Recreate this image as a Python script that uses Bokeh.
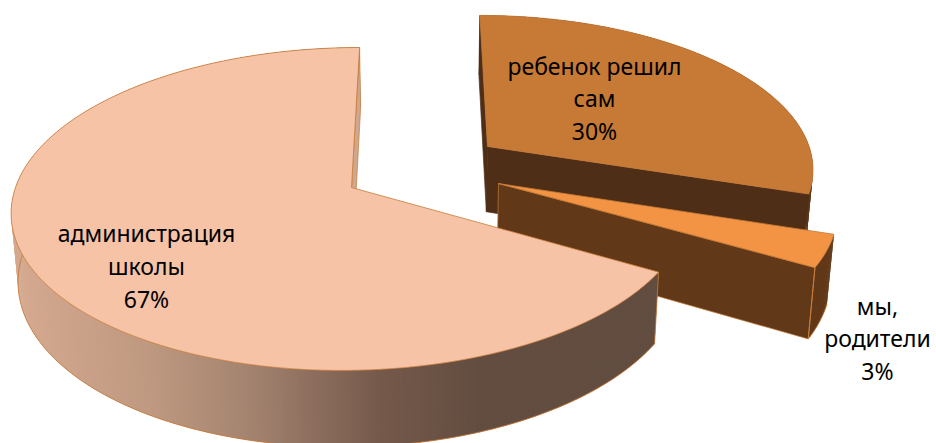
import math
from bokeh.plotting import figure
from bokeh.models import ColumnDataSource, Range1d
from bokeh.core.properties import value
from bokeh.embed import file_html
from bokeh.resources import INLINE

# ---- data (labels show the rounded shares)
categories = ["администрация школы", "ребенок решил сам", "мы, родители"]
shares = [66.7, 30.0, 3.3]
label_lines = [["администрация", "школы", "67%"],
               ["ребенок решил", "сам", "30%"],
               ["мы,", "родители", "3%"]]

# ---- styles
top_colors = ["#F6C3A6", "#C67A36", "#F29443"]
wall_colors = [None, "#4E2E16", "#613818"]
arc_colors = [None, "#5B3819", "#613818"]
edge = "#C87B38"
FONT = "Noto Sans"
FS = "23px"

# ---- projection (pixels of the 936x443 page)
VX, CY = 420.0, 187.0
RADII = [336.0, 333.0, 336.0]
RY, K = 158.6, 0.133
SHRINK = 0.983
CENTRES = [(351.0, 0.0), (489.4, -0.268), (498.3, -0.025)]  # exploded centres
LABEL_POS = [(146, [232.5, 265.5, 298.5]), (594, [65, 97.5, 130]), (877, [305.5, 337.5, 370.5])]


def proj(wx, s):
    f = 1.0 / (1.0 - K * s)
    return VX + (wx - VX) * f, CY + RY * s * f


def lower(px, py):
    return VX + (px - VX) * SHRINK, py + 58 + 0.05 * py


def ring(centre, radius, a0, a1, n):
    out = []
    for i in range(n + 1):
        a = math.radians(a0 + (a1 - a0) * i / n)
        out.append(proj(centre[0] + radius * math.cos(a), centre[1] - math.sin(a)))
    return out


STOPS = [(20, (212, 169, 143)), (150, (190, 152, 128)), (250, (163, 131, 111)),
         (300, (145, 114, 97)), (380, (117, 89, 75)), (480, (98, 77, 64)), (660, (98, 77, 64))]


def big_colour(x):
    for (x0, c0), (x1, c1) in zip(STOPS, STOPS[1:]):
        if x <= x1:
            t = max(0.0, (x - x0) / (x1 - x0))
            return "#%02x%02x%02x" % tuple(round(u + (v - u) * t) for u, v in zip(c0, c1))
    return "#624d40"


p = figure(width=936, height=443, output_backend="svg", toolbar_location=None,
           x_axis_type=None, y_axis_type=None, min_border=0, outline_line_color=None,
           x_range=Range1d(0, 936), y_range=Range1d(443, 0))
p.grid.visible = False
p.background_fill_color = "white"
p.border_fill_color = "white"

# angles follow from the shares; the big slice starts at twelve o'clock
total = sum(shares)
spans = []
start = 90.0
spans.append((start, start + 360.0 * shares[0] / total))
spans.append((start - 360.0 * shares[1] / total, start))
spans.append((spans[1][0] - 360.0 * shares[2] / total, spans[1][0]))

for idx in (1, 2, 0):
    a0, a1 = spans[idx]
    centre = CENTRES[idx]
    apex = proj(centre[0], centre[1])
    n = max(12, int(abs(a1 - a0)) * 2)
    top = ring(centre, RADII[idx], a0, a1, n)
    low = [lower(*q) for q in top]

    # outer wall in thin slabs, each overlapping the next so that no seams show
    xs, ys, cols = [], [], []
    for i in range(n):
        j = min(i + 2, n)
        xs.append([top[i][0], top[j][0], low[j][0], low[i][0]])
        ys.append([top[i][1], top[j][1], low[j][1], low[i][1]])
        mx = (top[i][0] + top[i + 1][0]) / 2
        cols.append(big_colour(mx) if idx == 0 else arc_colors[idx])
    p.patches(xs, ys, fill_color=cols, line_color=None)

    # bottom silhouette of the wall
    if idx == 0:
        front = [q for q, t in zip(low, top) if t[1] > 150]
    else:
        front = low
    p.line([q[0] for q in front], [q[1] for q in front], line_color=edge, line_width=0.9)

    # flat inner walls that face the viewer
    apex_low = lower(*apex)
    wall = wall_colors[idx] if idx else "#CFA78F"
    pairs = [(top[0], low[0])]
    if idx == 1:
        pairs.append((top[-1], low[-1]))
    for q, ql in pairs:
        p.patch([q[0], apex[0], apex_low[0], ql[0]], [q[1], apex[1], apex_low[1], ql[1]],
                fill_color=wall, line_color=edge if idx != 1 else wall, line_width=0.7)
    if idx == 2:
        q, ql = top[0], low[0]
        p.line([q[0], ql[0]], [q[1], ql[1]], line_color=edge, line_width=1)
    if idx == 0:
        q, ql = top[-1], low[-1]
        p.line([q[0], ql[0]], [q[1], ql[1]], line_color=edge, line_width=0.8)

    # top face
    p.patch([apex[0]] + [q[0] for q in top], [apex[1]] + [q[1] for q in top],
            fill_color=top_colors[idx], line_color=edge, line_width=0.8)

# labels
tx, ty, tt = [], [], []
for (cx, rows), lines in zip(LABEL_POS, label_lines):
    for yy, line in zip(rows, lines):
        tx.append(cx)
        ty.append(yy)
        tt.append(line)
p.text(x="x", y="y", text="t", source=ColumnDataSource(dict(x=tx, y=ty, t=tt)),
       text_font=value(FONT), text_font_size=value(FS), text_color="#000000",
       text_align="center", text_baseline="middle")

open("out.html", "w").write(file_html(p, INLINE))
